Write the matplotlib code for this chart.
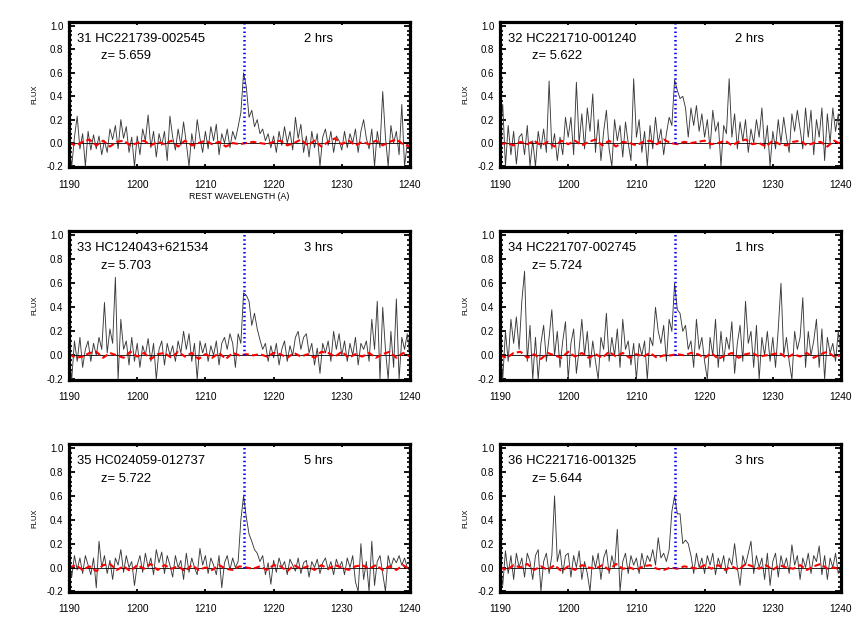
import numpy as np
import matplotlib
matplotlib.use('Agg')
import matplotlib.pyplot as plt
from matplotlib.ticker import MultipleLocator

plt.rcParams['font.family'] = ['Liberation Sans', 'DejaVu Sans']

# wavelength grid of the spectra (0.4 A steps) and of the red noise curve (1 A steps)
wave = np.round(1190.0 + 0.4 * np.arange(126), 1)
wave_err = np.arange(1190, 1241)

lya = 1215.67

ids = ['31 HC221739-002545', '32 HC221710-001240', '33 HC124043+621534',
       '34 HC221707-002745', '35 HC024059-012737', '36 HC221716-001325']
redshifts = ['5.659', '5.622', '5.703', '5.724', '5.722', '5.644']
exptimes = ['2 hrs', '2 hrs', '3 hrs', '1 hrs', '5 hrs', '3 hrs']

flux31 = [
    -0.02, -0.2, 0.05, 0.23, -0.05, 0.08, -0.2, 0.1, -0.06, 0.07, -0.05, 0.06, -0.1, 0.02, -0.08, 0.12, 0.03, 0.15, -0.05, 0.2, 0.04, 0.14, -0.08, 0.05, -0.2,
    0.06, -0.1, 0.12, 0.02, 0.24, -0.04, 0.1, -0.12, 0.08, -0.02, 0.1, -0.15, 0.23, 0.05, -0.06, 0.12, -0.02, 0.18, 0.0, -0.2, 0.08, -0.05, 0.2, 0.04, -0.08,
    0.1, -0.05, 0.14, 0.02, 0.16, -0.1, 0.08, 0.0, 0.12, -0.04, 0.1, 0.03, 0.14, 0.26, 0.6, 0.48, 0.22, 0.28, 0.14, 0.2, 0.08, 0.12, 0.02, 0.08, -0.04,
    0.06, -0.08, 0.1, -0.02, 0.14, 0.0, 0.1, -0.06, 0.22, 0.04, 0.16, -0.08, 0.06, -0.12, 0.1, -0.04, 0.08, -0.2, 0.05, 0.12, -0.02, 0.1, -0.08, 0.06, 0.02,
    -0.06, 0.1, -0.04, 0.08, 0.0, 0.12, -0.08, 0.1, 0.2, 0.04, -0.05, 0.12, -0.2, 0.1, -0.04, 0.44, 0.05, -0.2, 0.15, 0.0, 0.1, -0.1, 0.33, -0.2, 0.0,
    -0.05]
flux32 = [
    0.1, 0.33, -0.2, 0.15, -0.1, 0.1, -0.18, 0.05, 0.08, -0.1, 0.15, -0.2, 0.02, -0.2, 0.1, -0.05, 0.12, -0.08, 0.53, -0.05, 0.08, -0.15, 0.05, -0.1, 0.22,
    0.05, 0.22, -0.1, 0.52, 0.0, 0.25, -0.05, 0.3, 0.1, 0.42, -0.08, 0.2, -0.15, 0.1, 0.28, -0.05, -0.2, 0.2, 0.02, 0.15, -0.12, 0.18, 0.0, -0.15, 0.55,
    0.05, 0.2, -0.08, 0.1, -0.2, 0.15, -0.05, 0.22, 0.0, 0.12, -0.1, 0.08, 0.22, 0.15, 0.54, 0.45, 0.38, 0.4, 0.3, 0.05, 0.3, 0.15, 0.32, 0.1, 0.25,
    0.05, 0.2, -0.05, 0.28, 0.1, 0.18, -0.2, 0.15, 0.08, 0.55, 0.05, 0.25, -0.05, 0.18, 0.02, 0.2, -0.08, 0.12, 0.0, 0.2, 0.05, 0.3, -0.05, 0.15, -0.2,
    0.1, -0.05, 0.2, 0.0, 0.22, 0.05, -0.08, 0.25, 0.1, 0.28, 0.12, -0.05, 0.3, 0.05, 0.28, -0.1, 0.2, 0.05, 0.3, -0.15, 0.25, 0.0, 0.3, 0.1, 0.25,
    -0.05]
flux33 = [
    0.0, -0.2, 0.12, -0.05, 0.15, -0.1, 0.05, 0.12, -0.05, 0.1, 0.0, 0.15, 0.05, 0.44, 0.02, 0.22, 0.1, 0.65, -0.2, 0.3, 0.05, 0.12, -0.08, 0.15, -0.05,
    0.1, -0.1, 0.08, 0.0, 0.14, -0.05, 0.1, -0.2, 0.05, 0.12, -0.08, 0.1, 0.0, 0.08, -0.05, 0.12, 0.02, 0.2, 0.05, 0.18, -0.05, 0.1, -0.2, 0.12, 0.02,
    0.1, -0.05, 0.08, 0.0, 0.12, -0.08, 0.1, 0.15, 0.05, 0.18, 0.1, -0.1, 0.18, 0.1, 0.52, 0.5, 0.45, 0.25, 0.35, 0.22, 0.13, 0.05, 0.1, -0.05, 0.08,
    -0.02, 0.1, -0.08, 0.05, 0.12, -0.05, 0.08, 0.0, 0.15, 0.2, 0.05, 0.15, 0.18, 0.02, 0.1, -0.08, 0.06, -0.15, 0.1, 0.02, 0.12, -0.05, 0.2, 0.05, 0.18,
    0.0, 0.12, -0.05, 0.1, 0.0, 0.15, -0.08, 0.1, 0.05, 0.12, -0.05, 0.3, 0.05, 0.45, -0.2, 0.4, 0.05, -0.2, 0.2, -0.1, 0.47, -0.2, 0.15, 0.05, 0.18,
    -0.02]
flux34 = [
    0.1, -0.2, 0.2, -0.05, 0.3, 0.1, 0.32, 0.05, 0.45, 0.7, -0.05, 0.25, -0.2, 0.15, -0.2, 0.1, 0.25, -0.05, 0.15, 0.38, 0.0, 0.2, -0.1, 0.12, 0.28,
    -0.2, 0.1, 0.22, -0.15, 0.05, 0.3, 0.0, 0.2, -0.1, 0.12, -0.05, -0.2, 0.15, 0.05, 0.35, -0.05, 0.15, 0.0, 0.22, -0.1, 0.3, 0.05, 0.12, -0.08, 0.1,
    -0.2, 0.1, 0.0, 0.12, -0.2, 0.15, 0.08, 0.4, 0.2, 0.1, 0.25, -0.05, 0.3, 0.2, 0.6, 0.38, 0.35, 0.2, 0.25, 0.05, 0.12, -0.1, 0.3, 0.05, 0.15,
    -0.05, -0.2, 0.15, 0.0, 0.3, -0.1, 0.2, -0.05, 0.15, 0.05, 0.28, -0.15, 0.1, 0.25, -0.05, 0.45, 0.1, 0.2, -0.1, 0.25, -0.2, 0.15, 0.0, 0.2, -0.05,
    0.15, -0.1, 0.22, 0.6, 0.0, 0.15, -0.05, -0.2, 0.2, 0.05, 0.15, 0.48, -0.1, 0.2, 0.0, 0.12, 0.3, -0.1, 0.22, -0.2, 0.15, 0.02, 0.1, -0.05, 0.2,
    0.0]
flux35 = [
    0.05, -0.08, 0.1, -0.02, 0.08, -0.05, 0.1, 0.02, -0.06, 0.08, -0.17, 0.22, 0.0, 0.1, -0.05, 0.06, -0.1, 0.08, 0.02, 0.15, -0.04, 0.1, 0.0, 0.05, -0.15,
    0.02, 0.1, -0.04, 0.12, 0.0, 0.08, -0.06, 0.15, 0.04, 0.13, -0.05, 0.1, 0.02, -0.08, 0.1, 0.0, 0.06, -0.1, 0.12, -0.04, 0.08, 0.0, -0.06, 0.16, 0.02,
    0.1, -0.05, 0.08, 0.02, -0.06, 0.1, -0.17, 0.04, 0.1, -0.02, 0.08, 0.0, 0.05, 0.4, 0.6, 0.42, 0.28, 0.22, 0.15, 0.12, 0.05, 0.1, -0.06, 0.04, -0.14,
    0.06, -0.04, 0.08, 0.0, 0.05, -0.06, 0.07, 0.02, -0.03, 0.08, -0.05, 0.04, 0.06, -0.08, 0.05, 0.0, 0.07, -0.05, 0.04, 0.08, -0.02, 0.05, -0.06, 0.07, 0.0,
    0.05, -0.06, 0.08, 0.0, 0.1, -0.12, -0.2, 0.2, -0.1, 0.05, -0.2, 0.22, -0.15, 0.05, 0.1, -0.05, -0.2, 0.1, 0.0, 0.08, 0.04, 0.1, 0.02, 0.08, 0.0,
    -0.03]
flux36 = [
    0.05, -0.15, 0.14, -0.05, 0.1, -0.1, 0.12, 0.0, 0.08, -0.08, 0.12, 0.05, -0.1, 0.1, 0.15, -0.2, 0.05, 0.12, -0.05, 0.1, 0.6, 0.05, 0.15, -0.05, 0.1,
    0.12, -0.08, 0.1, 0.0, 0.14, -0.1, 0.05, -0.05, -0.2, 0.1, 0.0, 0.12, -0.1, 0.08, 0.15, -0.05, 0.1, 0.0, 0.32, -0.2, 0.05, 0.12, -0.05, 0.1, 0.02,
    0.08, -0.05, 0.12, 0.0, 0.1, 0.05, 0.15, 0.02, 0.25, 0.08, 0.12, 0.05, 0.15, 0.47, 0.6, 0.45, 0.45, 0.2, 0.23, 0.2, 0.1, -0.05, 0.12, 0.0, 0.08,
    -0.05, 0.1, 0.02, 0.12, -0.06, 0.08, 0.0, 0.1, -0.05, 0.08, 0.02, 0.2, 0.0, -0.15, 0.1, 0.02, 0.12, 0.22, -0.05, 0.1, 0.0, 0.08, -0.1, 0.12, -0.15,
    0.05, 0.12, -0.08, 0.1, 0.0, 0.08, -0.05, 0.19, 0.02, 0.1, -0.1, 0.08, 0.0, 0.12, -0.05, 0.1, 0.05, 0.18, -0.06, 0.1, -0.1, 0.08, 0.0, 0.12, -0.05,
    0.02]

err31 = [0.0, -0.02, 0.01, 0.03, -0.02, 0.02, -0.03, 0.01, 0.02, -0.02, 0.0, 0.02, -0.02, 0.01, -0.01, 0.02, -0.03, 0.02, -0.02, 0.0, 0.02, -0.01, 0.01, -0.03, 0.0,
         -0.01, 0.0, 0.01, 0.0, -0.01, 0.01, 0.02, -0.02, 0.0, 0.03, -0.02, 0.02, -0.03, 0.01, 0.04, -0.01, 0.02, -0.02, 0.01, -0.01, 0.02, -0.02, 0.01, 0.03, -0.01, -0.03]
err32 = [-0.01, 0.0, -0.02, 0.01, -0.01, 0.02, -0.02, 0.01, -0.03, 0.02, -0.01, 0.02, -0.02, 0.01, 0.03, -0.02, 0.02, -0.03, 0.01, 0.0, -0.02, 0.01, 0.02, -0.01, 0.03,
         0.0, -0.01, 0.01, 0.0, 0.01, 0.02, -0.01, 0.0, 0.02, -0.02, 0.01, 0.03, -0.01, 0.0, -0.03, 0.02, -0.01, -0.02, 0.01, 0.02, -0.02, 0.0, 0.01, -0.03, 0.02, -0.01]
err33 = [0.01, -0.02, -0.01, 0.02, 0.03, -0.02, 0.02, 0.0, -0.02, 0.03, -0.01, 0.02, -0.03, 0.01, 0.02, -0.02, 0.03, -0.01, 0.02, -0.03, 0.01, -0.02, 0.02, -0.03, 0.02,
         0.0, 0.01, 0.0, 0.01, -0.01, 0.02, 0.01, -0.02, 0.02, -0.01, 0.01, -0.02, 0.03, 0.02, -0.01, 0.03, -0.02, 0.01, -0.01, 0.02, -0.02, 0.01, 0.03, -0.02, 0.02, -0.01]
err34 = [0.0, -0.02, 0.02, 0.03, -0.02, 0.01, -0.03, 0.02, 0.0, -0.02, 0.03, -0.01, 0.02, -0.02, 0.01, -0.02, 0.03, -0.01, 0.02, -0.02, 0.01, -0.01, 0.02, -0.02, 0.0,
         0.0, 0.01, 0.0, 0.02, 0.01, -0.02, 0.02, -0.03, 0.0, 0.02, -0.02, 0.01, 0.02, -0.01, 0.0, 0.01, 0.02, -0.02, 0.01, -0.01, 0.02, -0.02, 0.01, 0.03, -0.01, 0.0]
err35 = [0.0, 0.02, -0.02, 0.01, -0.03, 0.02, 0.03, -0.02, 0.01, -0.03, 0.02, -0.01, 0.03, -0.02, 0.02, -0.01, 0.01, -0.03, 0.02, -0.02, 0.0, -0.02, 0.02, -0.01, -0.02,
         0.01, 0.0, -0.01, 0.01, -0.02, 0.02, 0.01, -0.03, 0.02, -0.01, 0.01, -0.02, 0.02, -0.01, 0.02, 0.0, -0.02, 0.01, 0.02, -0.01, 0.02, -0.02, 0.01, -0.02, 0.02, -0.02]
err36 = [0.0, -0.02, 0.02, 0.0, 0.03, -0.02, 0.01, -0.02, 0.02, -0.03, 0.01, -0.02, 0.02, 0.0, -0.01, 0.02, -0.02, 0.03, -0.01, 0.0, -0.02, 0.01, 0.02, -0.01, -0.02,
         0.0, -0.01, 0.01, 0.0, -0.01, 0.02, -0.01, 0.02, -0.02, 0.01, -0.02, 0.03, 0.01, -0.01, 0.02, -0.02, 0.02, 0.0, -0.01, 0.02, -0.02, 0.01, 0.03, -0.01, 0.0, -0.02]

fluxes = [flux31, flux32, flux33, flux34, flux35, flux36]
errors = [err31, err32, err33, err34, err35, err36]

W, H = 864, 637
fig = plt.figure(figsize=(W / 100, H / 100), dpi=100)

col_left = [69, 500]
ax_w = 341
rows = [(22, 167), (231, 380), (444, 592)]

for i in range(6):
    r, c = divmod(i, 2)
    top, bot = rows[r]
    ax = fig.add_axes([col_left[c] / W, 1 - bot / H, ax_w / W, (bot - top) / H])

    ax.plot(wave, fluxes[i], color='#3a3a3a', lw=0.65)
    ax.axhline(0, color='k', lw=0.6)
    ax.plot(wave_err, errors[i], color='red', lw=1.5, dashes=(3, 1.5))
    ax.plot([lya, lya], [0, 1.04], color='blue', lw=1.8, ls=(0, (0.6, 1.1)))

    ax.set_xlim(1190, 1240)
    ax.set_ylim(-0.205, 1.035)
    ax.xaxis.set_major_locator(MultipleLocator(10))
    ax.yaxis.set_major_locator(MultipleLocator(0.2))
    ax.yaxis.set_minor_locator(MultipleLocator(0.04))
    ax.yaxis.set_major_formatter(matplotlib.ticker.FormatStrFormatter('%.1f'))

    for s in ax.spines.values():
        s.set_linewidth(2.3)
    ax.tick_params(axis='y', which='major', direction='in', left=True, right=True,
                   length=4.5, width=1.3, labelsize=7, pad=4)
    ax.tick_params(axis='y', which='minor', direction='in', left=True, right=True,
                   length=2.2, width=1.2)
    ax.tick_params(axis='x', which='major', direction='in', bottom=True, top=True,
                   length=2.5, width=1.3, labelsize=7.3, pad=9)

    ax.set_ylabel('FLUX', fontsize=5.5)
    ax.yaxis.set_label_coords(-0.09, 0.5)
    if i == 0:
        ax.set_xlabel('REST WAVELENGTH (A)', fontsize=6.3)
        ax.xaxis.set_label_coords(0.5, -0.175)

    ax.text(1191.2, 0.89, ids[i], fontsize=9.4, ha='left', va='center')
    ax.text(1194.7, 0.74, 'z= ' + redshifts[i], fontsize=9.4, ha='left', va='center')
    ax.text(1224.4, 0.89, exptimes[i], fontsize=9.4, ha='left', va='center')

fig.savefig('out.png', dpi=100)
